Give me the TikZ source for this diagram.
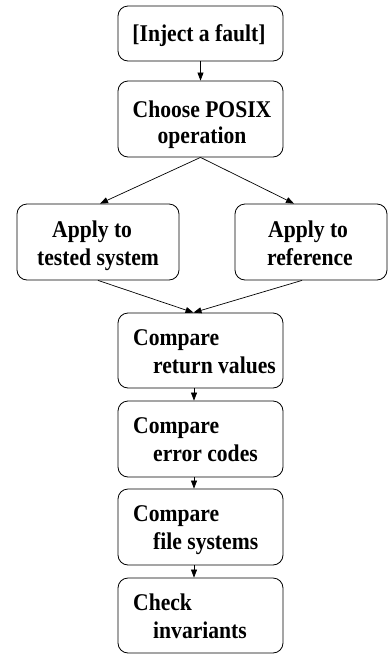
\documentclass[tikz,border=0pt]{standalone}
\usepackage{fontspec}
\setmainfont{Liberation Serif}[FakeStretch=0.9]
\usetikzlibrary{arrows.meta,calc}
\begin{document}
\begin{tikzpicture}[x=1pt,y=-1pt,
  box/.style={draw, rounded corners=10pt, line width=0.8pt, inner sep=0pt, minimum width=165pt},
  lbl/.style={inner sep=0pt, font=\fontsize{24}{26}\selectfont\bfseries},
  arr/.style={line width=0.7pt, -{Triangle[length=8pt,width=6pt]}}]
\useasboundingbox (0,0) rectangle (389,654);
\node[box, minimum height=55pt] (b1) at (200.5,33.5) {};
\node[box, minimum height=76pt] (b2) at (200.5,119) {};
\node[box, minimum height=76pt, minimum width=162pt] (b3) at (98,242) {};
\node[box, minimum height=76pt, minimum width=152pt] (b4) at (311,242) {};
\node[box, minimum height=75pt] (b5) at (200.5,350.5) {};
\node[box, minimum height=76pt] (b6) at (200.5,439) {};
\node[box, minimum height=76pt] (b7) at (200.5,527) {};
\node[box, minimum height=75pt] (b8) at (200.5,615.5) {};
% texts
\node[lbl, anchor=base] (t1) at (199,41) {[Inject a fault]};
\node[lbl, anchor=base] (t2a) at (202,117) {Choose POSIX};
\node[lbl, anchor=base] (t2b) at (202,143) {operation};
\node[lbl, anchor=base west] (t3a) at (52,237) {Apply to};
\node[lbl, anchor=base west] (t3b) at (37,265) {tested system};
\node[lbl, anchor=base west] (t4a) at (268,237) {Apply to};
\node[lbl, anchor=base west] (t4b) at (267,265) {reference};
\node[lbl, anchor=base west] (t5a) at (133,345) {Compare};
\node[lbl, anchor=base west] (t5b) at (153,373) {return values};
\node[lbl, anchor=base west] (t6a) at (133,433) {Compare};
\node[lbl, anchor=base west] (t6b) at (153,461) {error codes};
\node[lbl, anchor=base west] (t7a) at (133,521) {Compare};
\node[lbl, anchor=base west] (t7b) at (153,549) {file systems};
\node[lbl, anchor=base west] (t8a) at (133,610) {Check};
\node[lbl, anchor=base west] (t8b) at (153,638) {invariants};
% connectors
\draw[arr] (b1.south) -- (b2.north);
\draw[arr] (b2.south) -- ($(b3.north)+(2,0)$);
\draw[arr] (b2.south) -- ($(b4.north)+(-17,0)$);
\draw[arr] (b3.south) -- ($(b5.north)+(-7,0)$);
\draw[arr] ($(b4.south)+(-9,0)$) -- ($(b5.north)+(-7,0)$);
\draw[arr] ($(b5.south)+(-6.5,0)$) -- ($(b6.north)+(-6.5,0)$);
\draw[arr] ($(b6.south)+(-6.5,0)$) -- ($(b7.north)+(-6.5,0)$);
\draw[arr] ($(b7.south)+(-6.5,0)$) -- ($(b8.north)+(-6.5,0)$);
\end{tikzpicture}
\end{document}
